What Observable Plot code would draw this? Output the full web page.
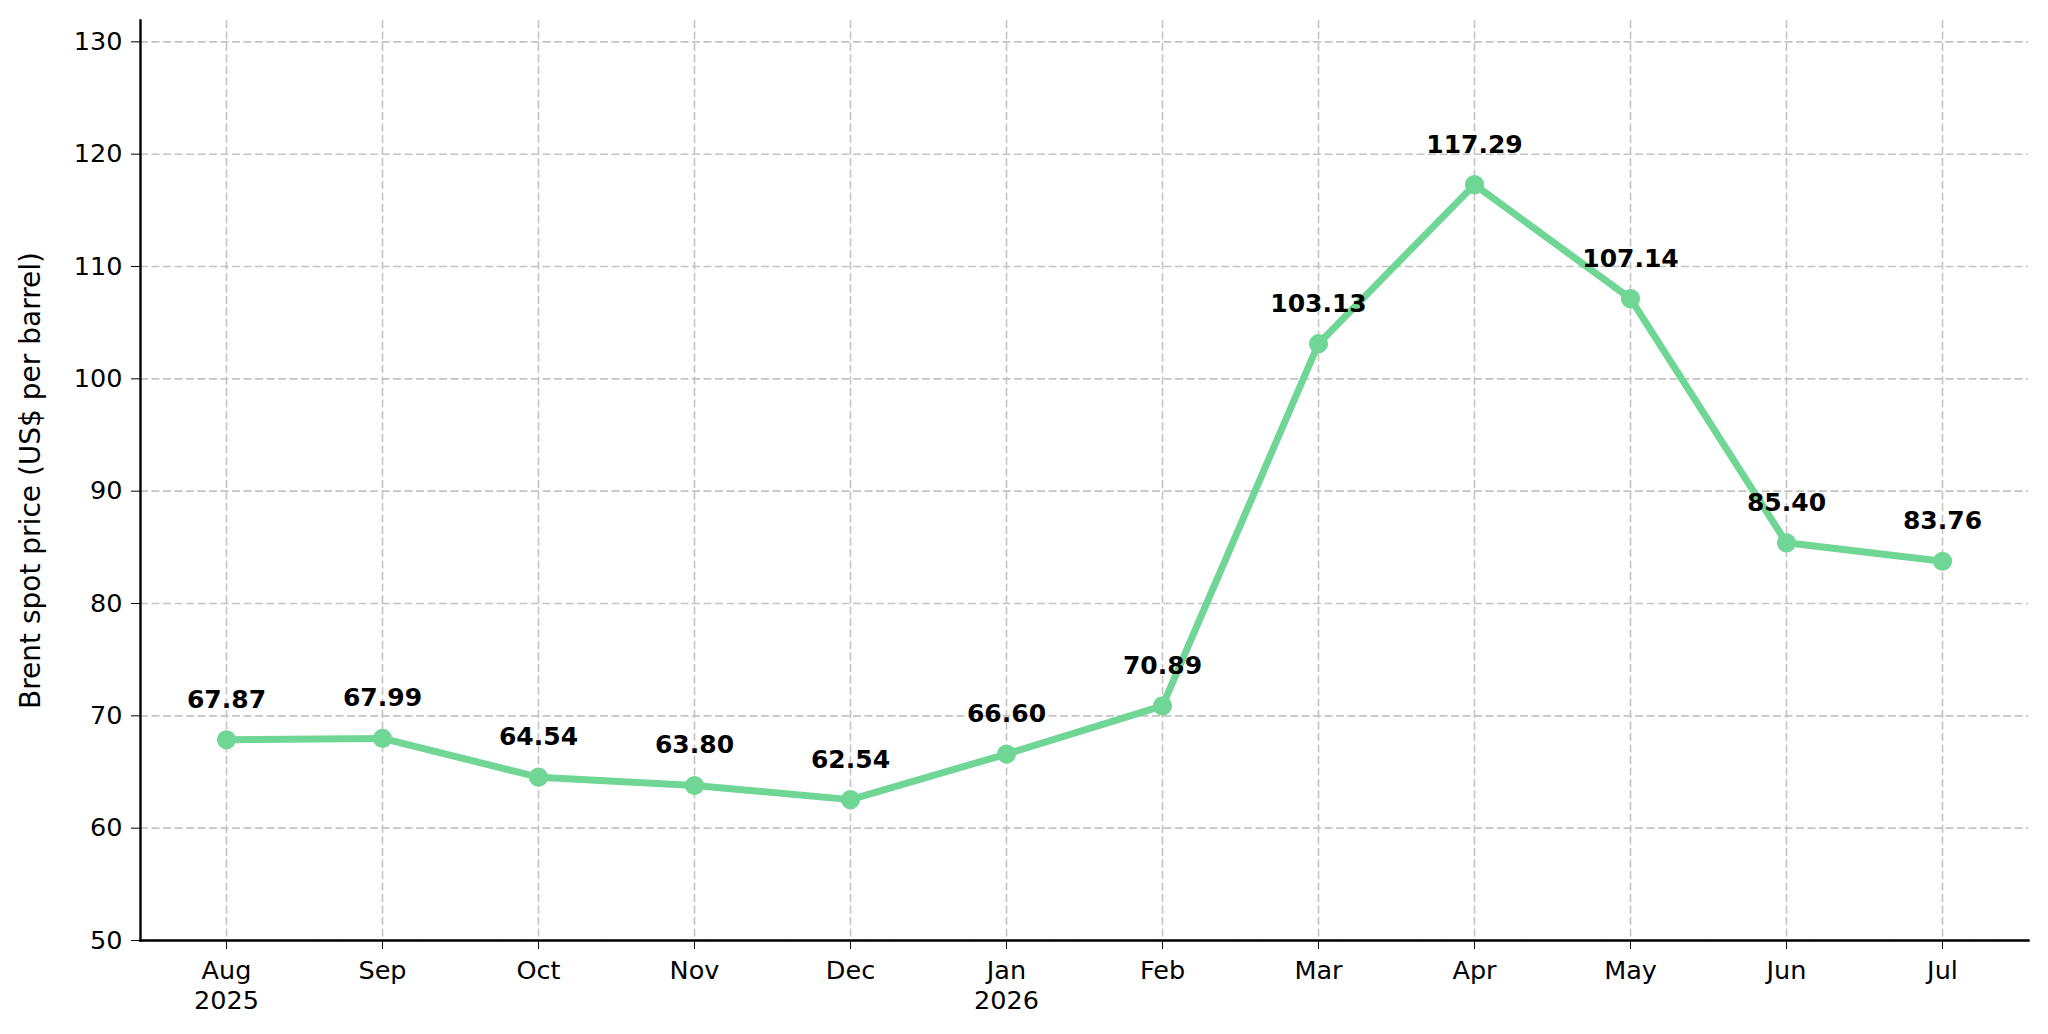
<!DOCTYPE html>
<html>
<head>
<meta charset="utf-8">
<script src="https://cdn.jsdelivr.net/npm/d3@7"></script>
<script src="https://cdn.jsdelivr.net/npm/@observablehq/plot@0.6"></script>
<style>
  html, body { margin: 0; padding: 0; background: #ffffff; }
  #chart { width: 2048px; height: 1034px; }
</style>
</head>
<body>
<div id="chart"></div>
<script>
const months = ["Aug", "Sep", "Oct", "Nov", "Dec", "Jan", "Feb", "Mar", "Apr", "May", "Jun", "Jul"];
const years  = ["2025", "", "", "", "", "2026", "", "", "", "", "", ""];
const prices = [67.87, 67.99, 64.54, 63.80, 62.54, 66.60, 70.89, 103.13, 117.29, 107.14, 85.40, 83.76];
const yTicks = [50, 60, 70, 80, 90, 100, 110, 120, 130];
const yLabel = "Brent spot price (US$ per barrel)";

const keys = months.map((m, i) => years[i] ? `${m}\n${years[i]}` : m);
const data = keys.map((k, i) => ({key: k, price: prices[i]}));

const green = "#6fd696";
const font = "25.5px";

const chart = Plot.plot({
  width: 2048,
  height: 1034,
  marginLeft: 140,
  marginRight: 20,
  marginTop: 20,
  marginBottom: 94,
  style: {fontFamily: "'DejaVu Sans', sans-serif", fontSize: font, color: "#000", background: "#fff"},
  x: {type: "point", domain: keys, padding: 0.55},
  y: {domain: [50, 131.9]},
  marks: [
    Plot.gridX({stroke: "#c4c4c4", strokeOpacity: 1, strokeWidth: 1.6, strokeDasharray: "8,3.5"}),
    Plot.gridY({ticks: yTicks, stroke: "#c4c4c4", strokeOpacity: 1, strokeWidth: 1.6, strokeDasharray: "8,3.5"}),
    Plot.axisX({tickSize: 9, tickPadding: 8, tickWidth: 2, fontSize: font, lineHeight: 1.18, label: null, stroke: "#000"}),
    Plot.axisY({ticks: yTicks, tickSize: 9, tickPadding: 9, fontSize: font, label: null, stroke: "#000"}),
    Plot.text([yLabel], {frameAnchor: "left", dx: -109, rotate: -90, fontSize: "28px", textAnchor: "middle", lineAnchor: "middle", fill: "#000"}),
    Plot.frame({anchor: "left", stroke: "#000", strokeWidth: 2.4}),
    Plot.frame({anchor: "bottom", stroke: "#000", strokeWidth: 2.4}),
    Plot.line(data, {x: "key", y: "price", stroke: green, strokeWidth: 7}),
    Plot.dot(data, {x: "key", y: "price", r: 9.6, fill: green, stroke: "none"}),
    Plot.text(data, {x: "key", y: "price", text: d => d.price.toFixed(2), dy: -32, lineAnchor: "bottom", fontWeight: "bold", fontSize: "25px", fill: "#000"})
  ]
});
document.getElementById("chart").appendChild(chart);
</script>
</body>
</html>
